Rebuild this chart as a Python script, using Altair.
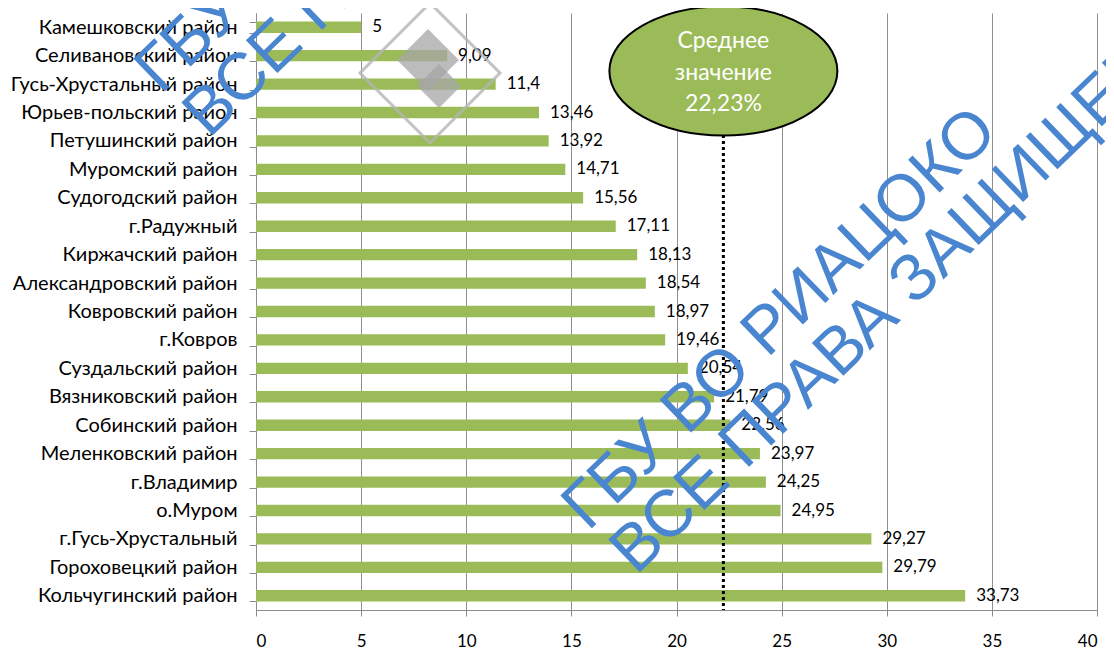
import altair as alt
import pandas as pd

districts = [
    "Камешковский район", "Селивановский район", "Гусь-Хрустальный район",
    "Юрьев-польский район", "Петушинский район", "Муромский район",
    "Судогодский район", "г.Радужный", "Киржачский район",
    "Александровский район", "Ковровский район", "г.Ковров",
    "Суздальский район", "Вязниковский район", "Собинский район",
    "Меленковский район", "г.Владимир", "о.Муром", "г.Гусь-Хрустальный",
    "Гороховецкий район", "Кольчугинский район",
]
values = [5, 9.09, 11.4, 13.46, 13.92, 14.71, 15.56, 17.11, 18.13, 18.54,
          18.97, 19.46, 20.54, 21.79, 22.56, 23.97, 24.25, 24.95, 29.27,
          29.79, 33.73]
MEAN = 22.23
x_ticks = [0, 5, 10, 15, 20, 25, 30, 35, 40]
mean_lines = ["Среднее", "значение", "22,23%"]
wm_line1 = "ГБУ ВО РИАЦОКО"
wm_line2 = "ВСЕ ПРАВА ЗАЩИЩЕНЫ"


def fmt(v):
    s = ("%g" % v)
    return s.replace(".", ",")


df = pd.DataFrame({"district": districts, "value": values,
                   "label": [fmt(v) for v in values]})

FONT = "Lato"
GRAY = "#8c8c8c"
GREEN = "#9BBB59"
W, H = 841, 597

y_enc = alt.Y(
    "district:N", sort=None, title=None,
    scale=alt.Scale(paddingInner=0.6, paddingOuter=0.3),
    axis=alt.Axis(labelFont=FONT, labelFontSize=20, labelColor="#000",
                  labelPadding=12, tickSize=7, tickColor=GRAY,
                  domainColor=GRAY, tickBand="extent", labelLimit=400),
)
x_enc = alt.X(
    "value:Q", title=None,
    scale=alt.Scale(domain=[0, 40], nice=False),
    axis=alt.Axis(values=x_ticks, grid=True, gridColor="#8f8f8f",
                  domainColor=GRAY, tickColor=GRAY, tickSize=6,
                  labelFont=FONT, labelFontSize=17, labelColor="#000",
                  labelPadding=17, format="d"),
)

base = alt.Chart(df)
bars = base.mark_bar(color=GREEN).encode(x=x_enc, y=y_enc)
labels = base.mark_text(align="left", baseline="middle", dx=11, font=FONT,
                        fontSize=17, color="#000").encode(
    x="value:Q", y=alt.Y("district:N", sort=None), text="label:N")

mdf = pd.DataFrame({"mean": [MEAN]})
mbase = alt.Chart(mdf)
rule = mbase.mark_rule(color="#000", strokeWidth=3, strokeDash=[3, 3]).encode(
    x="mean:Q", y=alt.value(122), y2=alt.value(H))

ellipse_path = "M-1,0 A1,0.566 0 1,1 1,0 A1,0.566 0 1,1 -1,0 Z"
ellipse = mbase.mark_point(shape=ellipse_path, filled=True, fill=GREEN,
                           stroke="#000", strokeWidth=2, opacity=1,
                           size=228 * 228).encode(
    x="mean:Q", y=alt.value(58))

mtexts = []
for i, t in enumerate(mean_lines):
    mtexts.append(mbase.mark_text(text=t, font=FONT, fontSize=23, color="#ffffff",
                                  align="center", baseline="middle").encode(
        x="mean:Q", y=alt.value(28 + 31.5 * i)))

# grey logo watermark
logo_outline = mbase.mark_point(shape="M0,-1 L1,0 L0,1 L-1,0 Z", filled=False,
                                stroke="#b5b5b5", strokeWidth=3, opacity=0.8,
                                size=140 * 140).encode(
    x=alt.value(174), y=alt.value(60))
logo_a = mbase.mark_point(shape="M0,-1 L1,0 L0,1 L-1,0 Z", filled=True,
                          fill="#a6a6a6", opacity=0.75, size=62 * 62).encode(
    x=alt.value(172), y=alt.value(47))
logo_b = mbase.mark_point(shape="M0,-1 L1,0 L0,1 L-1,0 Z", filled=True,
                          fill="#a6a6a6", opacity=0.75, size=44 * 44).encode(
    x=alt.value(183), y=alt.value(73))

wm = []
for (x1, y1) in [(332, 519), (-95, 82)]:
    wm.append(mbase.mark_text(text=wm_line1, font="Liberation Sans", fontSize=66,
                              color="#4A86D0", align="left", baseline="alphabetic",
                              angle=316).encode(x=alt.value(x1), y=alt.value(y1)))
    wm.append(mbase.mark_text(text=wm_line2, font="Liberation Sans", fontSize=66,
                              color="#4A86D0", align="left", baseline="alphabetic",
                              angle=316).encode(x=alt.value(x1 + 48), y=alt.value(y1 + 44)))

chart = alt.layer(bars, labels, rule, logo_outline, logo_a, logo_b, ellipse,
                  *mtexts, *wm).properties(
    width=W, height=H,
    autosize=alt.AutoSizeParams(type="none"),
    padding={"left": 248, "top": 5, "right": 9, "bottom": 45},
).configure_view(stroke=None)

chart.save("out.html", embed_options={"renderer": "svg", "actions": False})
